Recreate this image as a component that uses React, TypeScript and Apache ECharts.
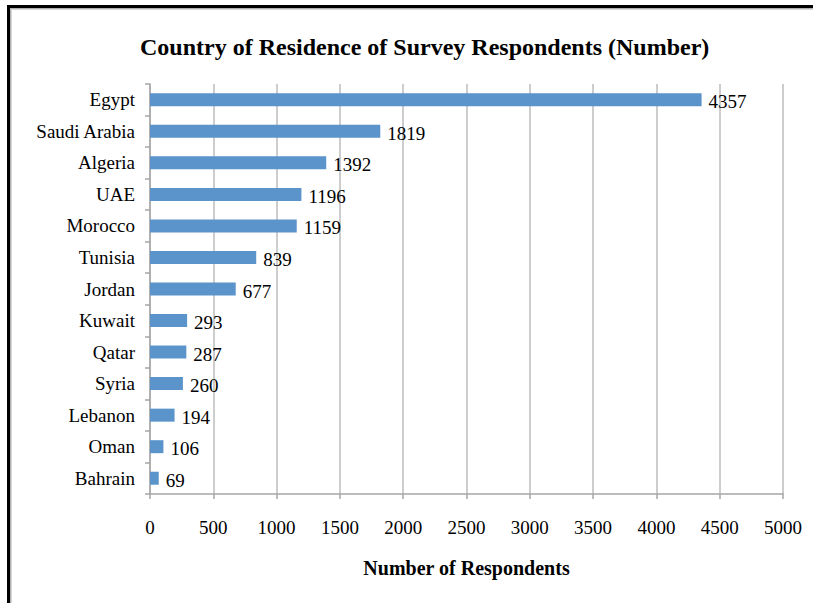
import React, { useEffect, useRef } from "react";
import * as echarts from "echarts";

const countries = [
  "Egypt", "Saudi Arabia", "Algeria", "UAE", "Morocco", "Tunisia", "Jordan",
  "Kuwait", "Qatar", "Syria", "Lebanon", "Oman", "Bahrain",
];
const respondents = [4357, 1819, 1392, 1196, 1159, 839, 677, 293, 287, 260, 194, 106, 69];
const xTicks = [0, 500, 1000, 1500, 2000, 2500, 3000, 3500, 4000, 4500, 5000];

const titleText = "Country of Residence of Survey Respondents (Number)";
const xAxisName = "Number of Respondents";

const SERIF = "'Liberation Serif', 'Times New Roman', serif";

export default function App() {
  const ref = useRef<HTMLDivElement>(null);
  useEffect(() => {
    if (!ref.current) return;
    const chart = echarts.init(ref.current, undefined, { renderer: "svg" });
    chart.setOption({
      animation: false,
      backgroundColor: "#ffffff",
      title: {
        text: titleText,
        left: 135,
        top: 30,
        textStyle: { fontFamily: SERIF, fontWeight: "bold", fontSize: 24, color: "#000" },
      },
      graphic: [
        { type: "rect", shape: { x: 7, y: 7, width: 3, height: 600 }, style: { fill: "#000" } },
        { type: "rect", shape: { x: 10, y: 10, width: 1.5, height: 600 }, style: { fill: "#b0b0b0" } },
        { type: "rect", shape: { x: 7, y: 5, width: 810, height: 3 }, style: { fill: "#000" } },
        { type: "rect", shape: { x: 10, y: 8, width: 810, height: 1.5 }, style: { fill: "#b0b0b0" } },
      ],
      grid: { left: 150, right: 30, top: 84, bottom: 109, containLabel: false },
      xAxis: {
        type: "value",
        min: xTicks[0],
        max: xTicks[xTicks.length - 1],
        interval: xTicks[1] - xTicks[0],
        name: xAxisName,
        nameLocation: "middle",
        nameGap: 64,
        nameTextStyle: { fontFamily: SERIF, fontWeight: "bold", fontSize: 20, color: "#000" },
        axisLine: { show: true, lineStyle: { color: "#a6a6a6", width: 1.5 } },
        axisTick: { show: true, length: 5, lineStyle: { color: "#a6a6a6", width: 1.5 } },
        axisLabel: {
          fontFamily: SERIF,
          fontSize: 19,
          color: "#000",
          margin: 24,
          formatter: (v: number) => String(v),
        },
        splitLine: { show: true, lineStyle: { color: "#bdbdbd", width: 1.5 } },
      },
      yAxis: {
        type: "category",
        data: countries,
        inverse: true,
        axisLine: { show: true, lineStyle: { color: "#a6a6a6", width: 1.5 } },
        axisTick: { show: true, length: 5, lineStyle: { color: "#a6a6a6", width: 1.5 } },
        axisLabel: { fontFamily: SERIF, fontSize: 19, color: "#000", margin: 15 },
      },
      series: [
        {
          type: "bar",
          data: respondents,
          barWidth: 13,
          itemStyle: { color: "#5b93cb" },
          label: {
            show: true,
            position: "right",
            distance: 7,
            offset: [0, 2],
            fontFamily: SERIF,
            fontSize: 19,
            color: "#000",
          },
        },
      ],
    });
    return () => chart.dispose();
  }, []);
  return (
    <div
      ref={ref}
      style={{ position: "fixed", left: 0, top: 0, width: 813, height: 603, background: "#fff" }}
    />
  );
}
